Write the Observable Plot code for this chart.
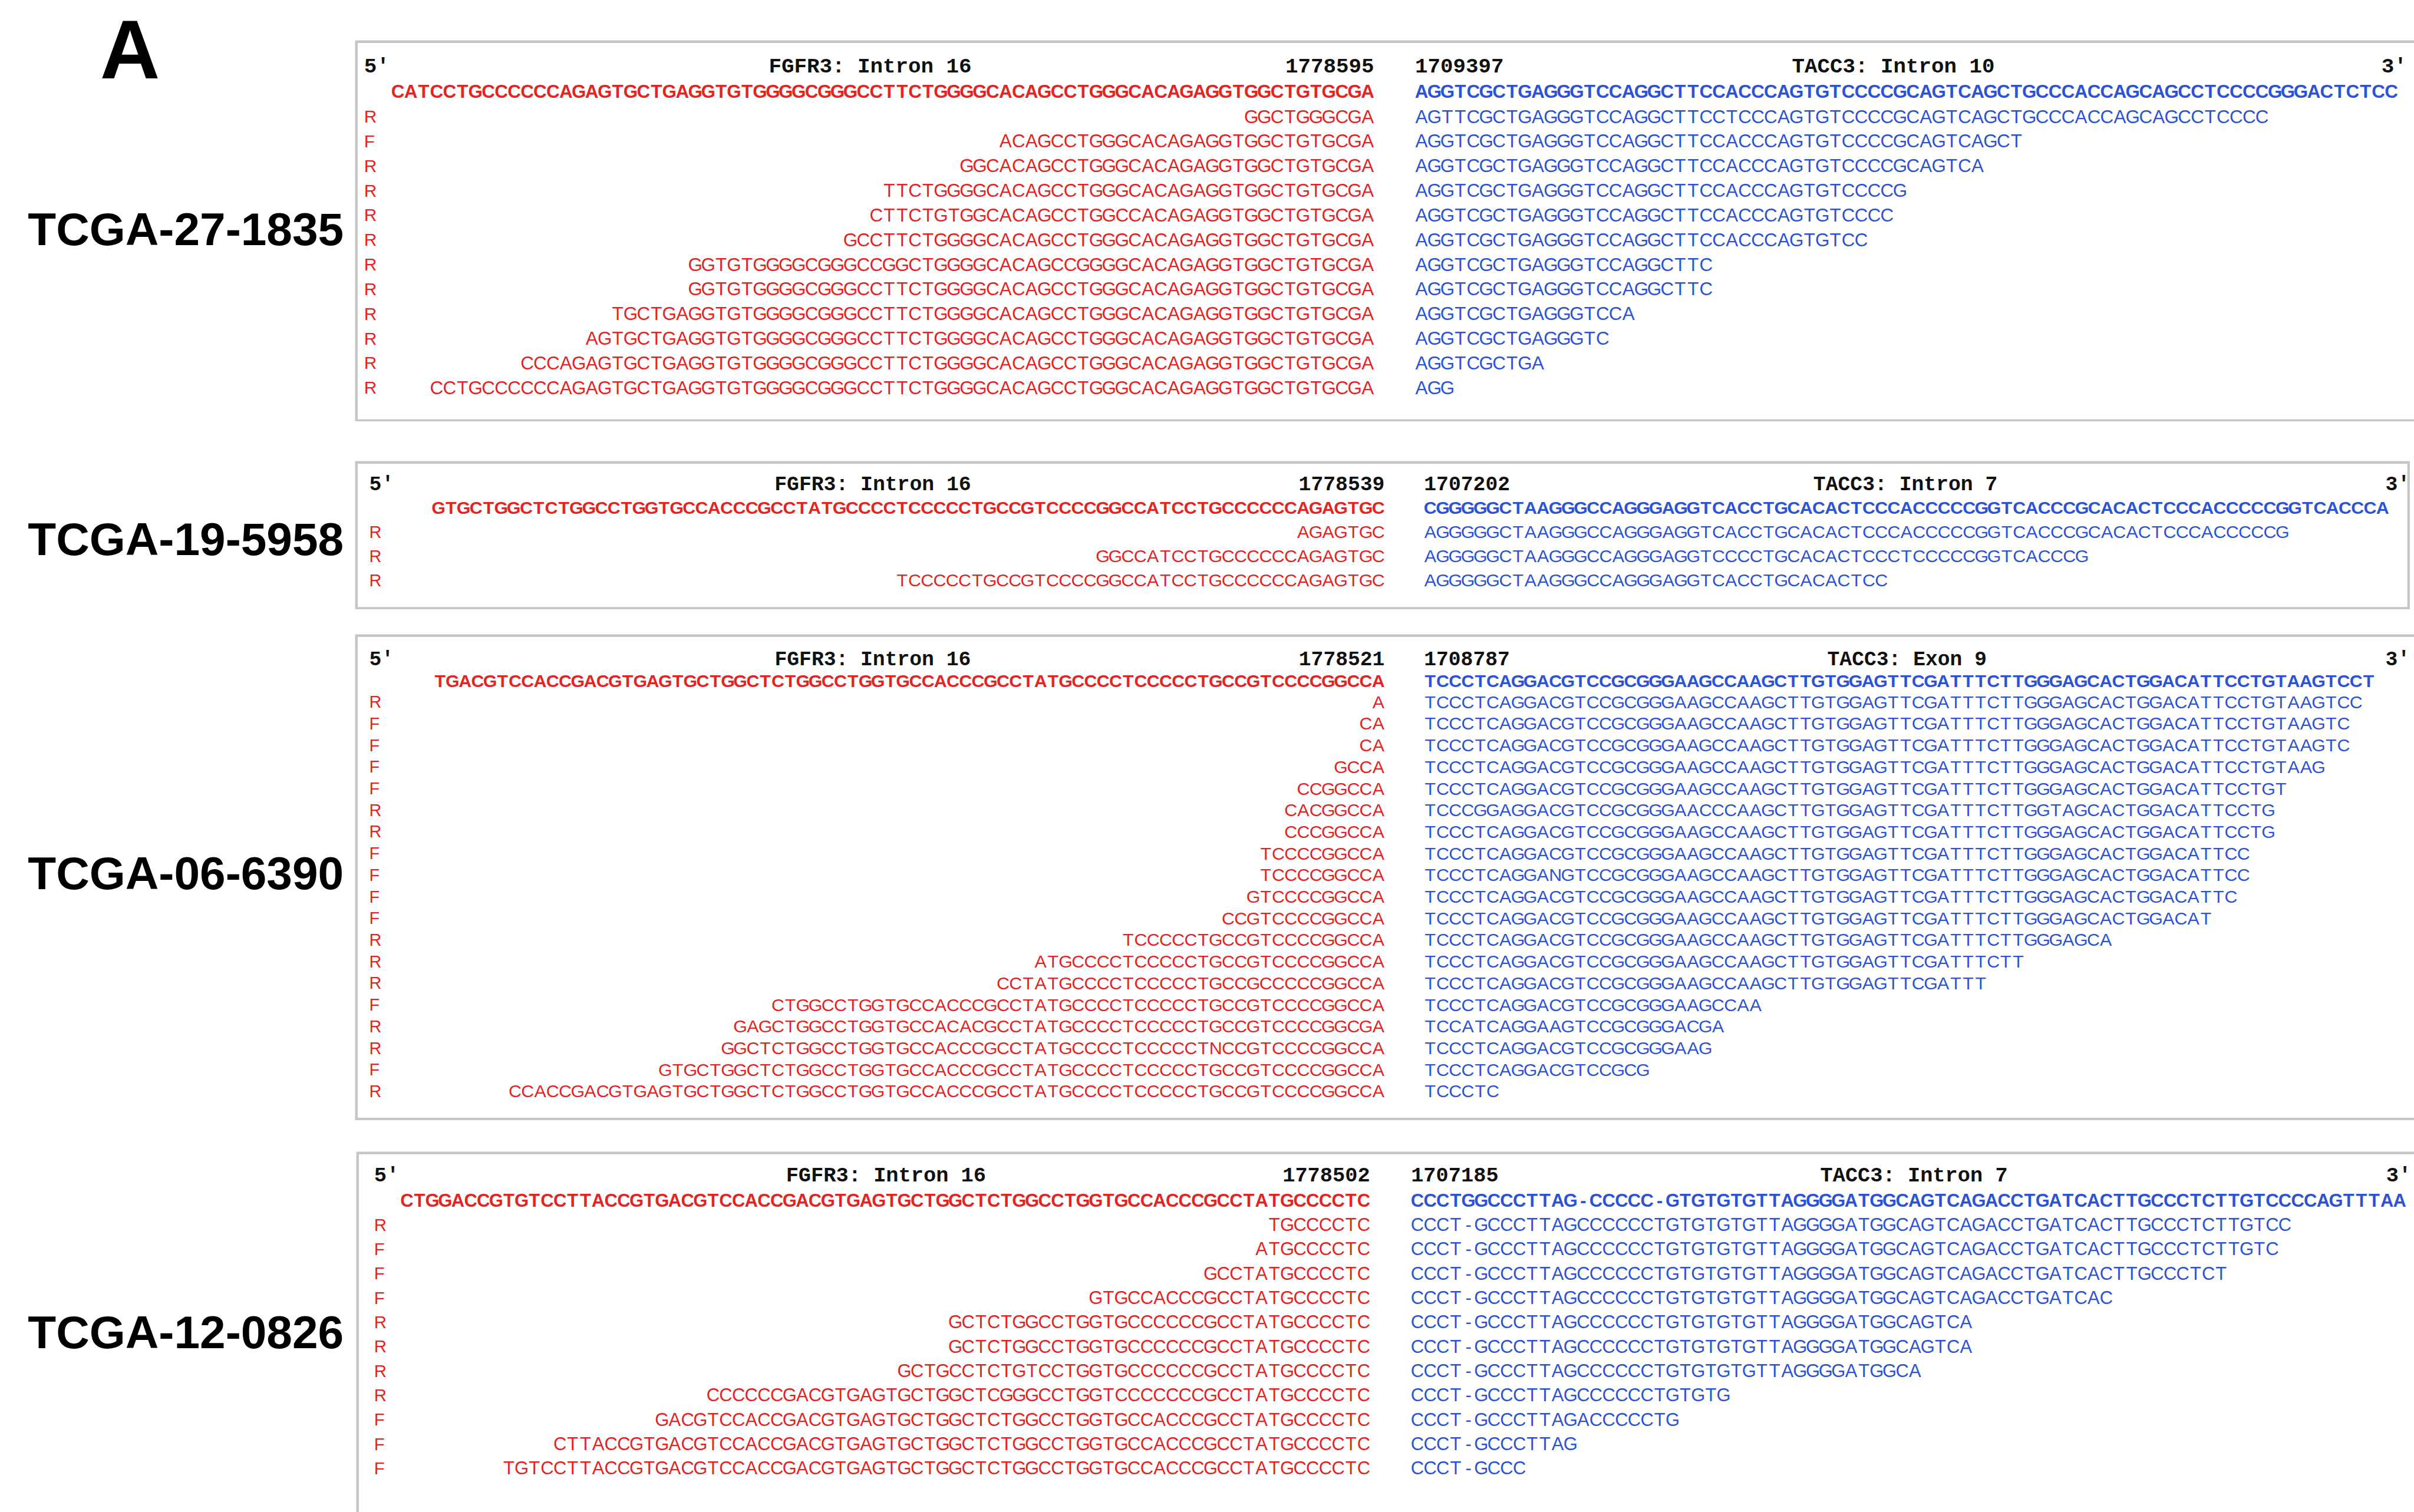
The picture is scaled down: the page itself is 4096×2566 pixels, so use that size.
<!DOCTYPE html>
<html><head><meta charset="utf-8">
<script src="https://cdn.jsdelivr.net/npm/d3@7"></script>
<script src="https://cdn.jsdelivr.net/npm/@observablehq/plot@0.6"></script>
<style>
html,body{margin:0;padding:0;background:#fff;}
#fig{position:relative;width:4096px;height:2566px;overflow:hidden;background:#fff;}
#fig svg{position:absolute;max-width:none;}
</style></head><body><div id="fig"></div><script>
// ---------------- data ----------------
const samples = ["TCGA-27-1835", "TCGA-19-5958", "TCGA-06-6390", "TCGA-12-0826"];
const fgfrRegion = ["FGFR3: Intron 16", "FGFR3: Intron 16", "FGFR3: Intron 16", "FGFR3: Intron 16"];
const taccRegion = ["TACC3: Intron 10", "TACC3: Intron 7", "TACC3: Exon 9", "TACC3: Intron 7"];
const fgfrPos = ["1778595", "1778539", "1778521", "1778502"];
const taccPos = ["1709397", "1707202", "1708787", "1707185"];

const fgfrRef = [
  "CATCCTGCCCCCCAGAGTGCTGAGGTGTGGGGCGGGCCTTCTGGGGCACAGCCTGGGCACAGAGGTGGCTGTGCGA",
  "GTGCTGGCTCTGGCCTGGTGCCACCCGCCTATGCCCCTCCCCCTGCCGTCCCCGGCCATCCTGCCCCCCAGAGTGC",
  "TGACGTCCACCGACGTGAGTGCTGGCTCTGGCCTGGTGCCACCCGCCTATGCCCCTCCCCCTGCCGTCCCCGGCCA",
  "CTGGACCGTGTCCTTACCGTGACGTCCACCGACGTGAGTGCTGGCTCTGGCCTGGTGCCACCCGCCTATGCCCCTC"
];
const taccRef = [
  "AGGTCGCTGAGGGTCCAGGCTTCCACCCAGTGTCCCCGCAGTCAGCTGCCCACCAGCAGCCTCCCCGGGACTCTCC",
  "CGGGGGCTAAGGGCCAGGGAGGTCACCTGCACACTCCCACCCCCGGTCACCCGCACACTCCCACCCCCGGTCACCCA",
  "TCCCTCAGGACGTCCGCGGGAAGCCAAGCTTGTGGAGTTCGATTTCTTGGGAGCACTGGACATTCCTGTAAGTCCT",
  "CCCTGGCCCTTAG-CCCCC-GTGTGTGTTAGGGGATGGCAGTCAGACCTGATCACTTGCCCTCTTGTCCCCAGTTTAA"
];

const strand1 = ["R","F","R","R","R","R","R","R","R","R","R","R"];
const fgfrReads1 = [
  "GGCTGGGCGA",
  "ACAGCCTGGGCACAGAGGTGGCTGTGCGA",
  "GGCACAGCCTGGGCACAGAGGTGGCTGTGCGA",
  "TTCTGGGGCACAGCCTGGGCACAGAGGTGGCTGTGCGA",
  "CTTCTGTGGCACAGCCTGGCCACAGAGGTGGCTGTGCGA",
  "GCCTTCTGGGGCACAGCCTGGGCACAGAGGTGGCTGTGCGA",
  "GGTGTGGGGCGGGCCGGCTGGGGCACAGCCGGGGCACAGAGGTGGCTGTGCGA",
  "GGTGTGGGGCGGGCCTTCTGGGGCACAGCCTGGGCACAGAGGTGGCTGTGCGA",
  "TGCTGAGGTGTGGGGCGGGCCTTCTGGGGCACAGCCTGGGCACAGAGGTGGCTGTGCGA",
  "AGTGCTGAGGTGTGGGGCGGGCCTTCTGGGGCACAGCCTGGGCACAGAGGTGGCTGTGCGA",
  "CCCAGAGTGCTGAGGTGTGGGGCGGGCCTTCTGGGGCACAGCCTGGGCACAGAGGTGGCTGTGCGA",
  "CCTGCCCCCCAGAGTGCTGAGGTGTGGGGCGGGCCTTCTGGGGCACAGCCTGGGCACAGAGGTGGCTGTGCGA"
];
const taccReads1 = [
  "AGTTCGCTGAGGGTCCAGGCTTCCTCCCAGTGTCCCCGCAGTCAGCTGCCCACCAGCAGCCTCCCC",
  "AGGTCGCTGAGGGTCCAGGCTTCCACCCAGTGTCCCCGCAGTCAGCT",
  "AGGTCGCTGAGGGTCCAGGCTTCCACCCAGTGTCCCCGCAGTCA",
  "AGGTCGCTGAGGGTCCAGGCTTCCACCCAGTGTCCCCG",
  "AGGTCGCTGAGGGTCCAGGCTTCCACCCAGTGTCCCC",
  "AGGTCGCTGAGGGTCCAGGCTTCCACCCAGTGTCC",
  "AGGTCGCTGAGGGTCCAGGCTTC",
  "AGGTCGCTGAGGGTCCAGGCTTC",
  "AGGTCGCTGAGGGTCCA",
  "AGGTCGCTGAGGGTC",
  "AGGTCGCTGA",
  "AGG"
];

const strand2 = ["R","R","R"];
const fgfrReads2 = [
  "AGAGTGC",
  "GGCCATCCTGCCCCCCAGAGTGC",
  "TCCCCCTGCCGTCCCCGGCCATCCTGCCCCCCAGAGTGC"
];
const taccReads2 = [
  "AGGGGGCTAAGGGCCAGGGAGGTCACCTGCACACTCCCACCCCCGGTCACCCGCACACTCCCACCCCCG",
  "AGGGGGCTAAGGGCCAGGGAGGTCCCCTGCACACTCCCTCCCCCGGTCACCCG",
  "AGGGGGCTAAGGGCCAGGGAGGTCACCTGCACACTCC"
];

const strand3 = ["R","F","F","F","F","R","R","F","F","F","F","R","R","R","F","R","R","F","R"];
const fgfrReads3 = [
  "A",
  "CA",
  "CA",
  "GCCA",
  "CCGGCCA",
  "CACGGCCA",
  "CCCGGCCA",
  "TCCCCGGCCA",
  "TCCCCGGCCA",
  "GTCCCCGGCCA",
  "CCGTCCCCGGCCA",
  "TCCCCCTGCCGTCCCCGGCCA",
  "ATGCCCCTCCCCCTGCCGTCCCCGGCCA",
  "CCTATGCCCCTCCCCCTGCCGCCCCCGGCCA",
  "CTGGCCTGGTGCCACCCGCCTATGCCCCTCCCCCTGCCGTCCCCGGCCA",
  "GAGCTGGCCTGGTGCCACACGCCTATGCCCCTCCCCCTGCCGTCCCCGGCGA",
  "GGCTCTGGCCTGGTGCCACCCGCCTATGCCCCTCCCCCTNCCGTCCCCGGCCA",
  "GTGCTGGCTCTGGCCTGGTGCCACCCGCCTATGCCCCTCCCCCTGCCGTCCCCGGCCA",
  "CCACCGACGTGAGTGCTGGCTCTGGCCTGGTGCCACCCGCCTATGCCCCTCCCCCTGCCGTCCCCGGCCA"
];
const taccReads3 = [
  "TCCCTCAGGACGTCCGCGGGAAGCCAAGCTTGTGGAGTTCGATTTCTTGGGAGCACTGGACATTCCTGTAAGTCC",
  "TCCCTCAGGACGTCCGCGGGAAGCCAAGCTTGTGGAGTTCGATTTCTTGGGAGCACTGGACATTCCTGTAAGTC",
  "TCCCTCAGGACGTCCGCGGGAAGCCAAGCTTGTGGAGTTCGATTTCTTGGGAGCACTGGACATTCCTGTAAGTC",
  "TCCCTCAGGACGTCCGCGGGAAGCCAAGCTTGTGGAGTTCGATTTCTTGGGAGCACTGGACATTCCTGTAAG",
  "TCCCTCAGGACGTCCGCGGGAAGCCAAGCTTGTGGAGTTCGATTTCTTGGGAGCACTGGACATTCCTGT",
  "TCCCGGAGGACGTCCGCGGGAACCCAAGCTTGTGGAGTTCGATTTCTTGGTAGCACTGGACATTCCTG",
  "TCCCTCAGGACGTCCGCGGGAAGCCAAGCTTGTGGAGTTCGATTTCTTGGGAGCACTGGACATTCCTG",
  "TCCCTCAGGACGTCCGCGGGAAGCCAAGCTTGTGGAGTTCGATTTCTTGGGAGCACTGGACATTCC",
  "TCCCTCAGGANGTCCGCGGGAAGCCAAGCTTGTGGAGTTCGATTTCTTGGGAGCACTGGACATTCC",
  "TCCCTCAGGACGTCCGCGGGAAGCCAAGCTTGTGGAGTTCGATTTCTTGGGAGCACTGGACATTC",
  "TCCCTCAGGACGTCCGCGGGAAGCCAAGCTTGTGGAGTTCGATTTCTTGGGAGCACTGGACAT",
  "TCCCTCAGGACGTCCGCGGGAAGCCAAGCTTGTGGAGTTCGATTTCTTGGGAGCA",
  "TCCCTCAGGACGTCCGCGGGAAGCCAAGCTTGTGGAGTTCGATTTCTT",
  "TCCCTCAGGACGTCCGCGGGAAGCCAAGCTTGTGGAGTTCGATTT",
  "TCCCTCAGGACGTCCGCGGGAAGCCAA",
  "TCCATCAGGAAGTCCGCGGGACGA",
  "TCCCTCAGGACGTCCGCGGGAAG",
  "TCCCTCAGGACGTCCGCG",
  "TCCCTC"
];

const strand4 = ["R","F","F","F","R","R","R","R","F","F","F"];
const fgfrReads4 = [
  "TGCCCCTC",
  "ATGCCCCTC",
  "GCCTATGCCCCTC",
  "GTGCCACCCGCCTATGCCCCTC",
  "GCTCTGGCCTGGTGCCCCCCGCCTATGCCCCTC",
  "GCTCTGGCCTGGTGCCCCCCGCCTATGCCCCTC",
  "GCTGCCTCTGTCCTGGTGCCCCCCGCCTATGCCCCTC",
  "CCCCCCGACGTGAGTGCTGGCTCGGGCCTGGTCCCCCCCGCCTATGCCCCTC",
  "GACGTCCACCGACGTGAGTGCTGGCTCTGGCCTGGTGCCACCCGCCTATGCCCCTC",
  "CTTACCGTGACGTCCACCGACGTGAGTGCTGGCTCTGGCCTGGTGCCACCCGCCTATGCCCCTC",
  "TGTCCTTACCGTGACGTCCACCGACGTGAGTGCTGGCTCTGGCCTGGTGCCACCCGCCTATGCCCCTC"
];
const taccReads4 = [
  "CCCT-GCCCTTAGCCCCCCTGTGTGTGTTAGGGGATGGCAGTCAGACCTGATCACTTGCCCTCTTGTCC",
  "CCCT-GCCCTTAGCCCCCCTGTGTGTGTTAGGGGATGGCAGTCAGACCTGATCACTTGCCCTCTTGTC",
  "CCCT-GCCCTTAGCCCCCCTGTGTGTGTTAGGGGATGGCAGTCAGACCTGATCACTTGCCCTCT",
  "CCCT-GCCCTTAGCCCCCCTGTGTGTGTTAGGGGATGGCAGTCAGACCTGATCAC",
  "CCCT-GCCCTTAGCCCCCCTGTGTGTGTTAGGGGATGGCAGTCA",
  "CCCT-GCCCTTAGCCCCCCTGTGTGTGTTAGGGGATGGCAGTCA",
  "CCCT-GCCCTTAGCCCCCCTGTGTGTGTTAGGGGATGGCA",
  "CCCT-GCCCTTAGCCCCCCTGTGTG",
  "CCCT-GCCCTTAGACCCCCTG",
  "CCCT-GCCCTTAG",
  "CCCT-GCCC"
];

const strands = [strand1, strand2, strand3, strand4];
const fgfrReads = [fgfrReads1, fgfrReads2, fgfrReads3, fgfrReads4];
const taccReads = [taccReads1, taccReads2, taccReads3, taccReads4];

// ---------------- layout (reference pixel units) ----------------
const K = 4096 / 4598;
const layout = [
  {box:[676, 76, 4720, 803],   a:24.63, redEnd:2617, blueStart:2695, row0:222,    step:46.95, headerY:173.8, titleY:124.6, labelX:693, fTitleX:1657, tTitleX:3606, endX:4584, labelY:438},
  {box:[676, 878, 4590, 1161], a:23.87, redEnd:2637, blueStart:2712, row0:1014,   step:45.9,  headerY:967,   titleY:921,   labelX:703, fTitleX:1662, tTitleX:3629, endX:4590, labelY:1029},
  {box:[676, 1208, 4720, 2134],a:23.83, redEnd:2637, blueStart:2712, row0:1337.7, step:41.2,  headerY:1297,  titleY:1255,  labelX:703, fTitleX:1662, tTitleX:3632, endX:4590, labelY:1665},
  {box:[678, 2193, 4720, 2990],a:24.3,  redEnd:2609, blueStart:2687, row0:2333,   step:46.4,  headerY:2287,  titleY:2237.5,labelX:712, fTitleX:1687, tTitleX:3645, endX:4592, labelY:2539}
];
const figLayout = {aX:247, aY:98, sampleRight:654};

const RED = "#e3241f", BLUE = "#2c53d5", INK = "#111111", BORDER = "#c6c6c6";
const SANS = "'Liberation Sans', Arial, Helvetica, sans-serif";
const MONO = "'Liberation Mono', 'DejaVu Sans Mono', monospace";

const fig = document.getElementById("fig");

// sample names and panel letter
const over = Plot.plot({
  width: 4096, height: 2566, margin: 0,
  x: {type: "linear", domain: [0, 4598], range: [0, 4096], axis: null},
  y: {type: "linear", domain: [0, 2880], range: [0, 2566], axis: null},
  marks: [
    Plot.text(["A"], {x: () => figLayout.aX, y: () => figLayout.aY, text: d => d, fill: "#000",
      fontSize: 158 * K, fontWeight: "bold", fontFamily: SANS}),
    Plot.text(samples, {x: () => figLayout.sampleRight, y: (d, i) => layout[i].labelY, text: d => d,
      textAnchor: "end", fill: "#000", fontSize: 88 * K, fontWeight: "bold", fontFamily: SANS})
  ]
});
over.style.left = "0px"; over.style.top = "0px";
fig.appendChild(over);

function panel(k) {
  const L = layout[k];
  const col = px => (px - L.redEnd) / L.a;
  const row = py => (py - L.row0) / L.step;
  const gap = col(L.blueStart);
  const hr = row(L.headerY), tr = row(L.titleY);
  const redChars = (s, r) => Array.from(s, (ch, i) => ({ch, c: i - s.length + 0.5, r}));
  const blueChars = (s, r) => Array.from(s, (ch, i) => ({ch, c: gap + i + 0.5, r}));
  const fsSeq = 1.43 * L.a * K, fsLab = 1.36 * L.a * K, fsMono = L.a / 0.6 * K * 0.98;
  const w = (L.box[2] - L.box[0]) * K, h = (L.box[3] - L.box[1]) * K;
  const sw = 5 * K;
  const seq = (fill, weight) => ({x: "c", y: "r", text: "ch", fill, fontWeight: weight, fontSize: fsSeq, fontFamily: SANS, textAnchor: "middle"});
  const ttl = (anchor) => ({text: d => d, fill: INK, fontWeight: "bold", fontSize: fsMono, fontFamily: MONO, textAnchor: anchor});
  const svg = Plot.plot({
    width: w, height: h, margin: 0,
    x: {type: "linear", domain: [col(L.box[0]), col(L.box[2])], range: [0, w], axis: null},
    y: {type: "linear", domain: [row(L.box[1]), row(L.box[3])], range: [0, h], axis: null},
    marks: [
      Plot.text(redChars(fgfrRef[k], hr), seq(RED, "bold")),
      Plot.text(fgfrReads[k].flatMap((s, i) => redChars(s, i)), seq(RED, "normal")),
      Plot.text(blueChars(taccRef[k], hr), seq(BLUE, "bold")),
      Plot.text(taccReads[k].flatMap((s, i) => blueChars(s, i)), seq(BLUE, "normal")),
      Plot.text(strands[k], {x: () => col(L.labelX), y: (d, i) => i, text: d => d, textAnchor: "start",
        fill: RED, fontSize: fsLab, fontFamily: SANS}),
      Plot.text(["5'"], {x: () => col(L.labelX), y: () => tr, ...ttl("start")}),
      Plot.text([fgfrRegion[k]], {x: () => col(L.fTitleX), y: () => tr, ...ttl("middle")}),
      Plot.text([fgfrPos[k]], {x: () => 0, y: () => tr, ...ttl("end")}),
      Plot.text([taccPos[k]], {x: () => gap, y: () => tr, ...ttl("start")}),
      Plot.text([taccRegion[k]], {x: () => col(L.tTitleX), y: () => tr, ...ttl("middle")}),
      Plot.text(["3'"], {x: () => col(L.endX), y: () => tr, ...ttl("end")}),
      Plot.frame({stroke: BORDER, strokeWidth: sw, inset: sw / 2})
    ]
  });
  svg.style.left = (L.box[0] * K) + "px";
  svg.style.top = (L.box[1] * K) + "px";
  svg.style.width = w + "px";
  svg.style.height = h + "px";
  svg.style.maxWidth = "none";
  fig.appendChild(svg);
}
for (let k = 0; k < 4; k++) panel(k);
</script></body></html>
